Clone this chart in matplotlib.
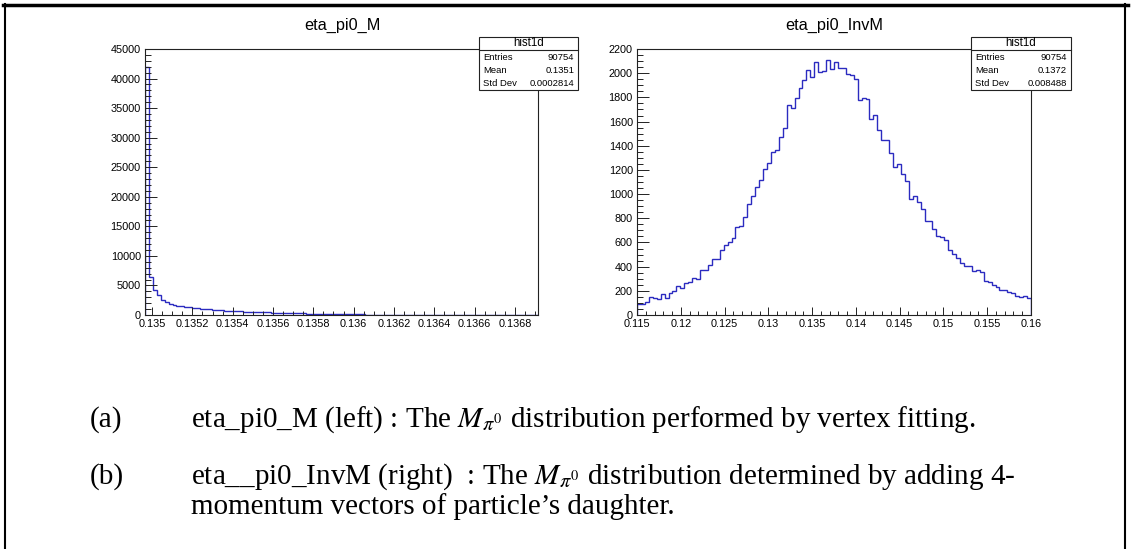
import matplotlib
matplotlib.use("Agg")
import matplotlib.pyplot as plt
from matplotlib.patches import Rectangle
from matplotlib.lines import Line2D
from matplotlib.ticker import MultipleLocator, FormatStrFormatter
import numpy as np

# --- data ---
# left: eta_pi0_M, 100 bins of width 0.0000195 starting at 0.134965 (only the first 61 filled)
m_lo, m_hi = 0.134965, 0.136915
m_counts = [42000, 6500, 4300, 3300, 2500, 2200, 1900, 1720, 1600, 1500,
            1400, 1300, 1220, 1150, 1080, 1000, 950, 900, 850, 800,
            760, 720, 690, 650, 620, 590, 560, 530, 500, 475,
            450, 425, 400, 380, 360, 340, 320, 300, 285, 270,
            255, 240, 225, 210, 200, 190, 180, 170, 160, 150,
            140, 130, 120, 110, 100, 90, 80, 70, 60, 50, 40]

# right: eta_pi0_InvM, 100 bins from 0.115 to 0.16
inv_lo, inv_hi = 0.115, 0.16
inv_counts = [92, 95, 110, 147, 140, 136, 175, 140, 180, 195,
              238, 225, 265, 275, 305, 295, 370, 372, 415, 465,
              465, 540, 575, 600, 640, 730, 735, 810, 920, 985,
              1055, 1120, 1210, 1255, 1350, 1365, 1475, 1550, 1735, 1715,
              1795, 1880, 1945, 2025, 1970, 2090, 2010, 2020, 2110, 2035,
              2090, 2045, 2040, 1990, 1985, 1955, 1778, 1797, 1786, 1625,
              1653, 1528, 1444, 1444, 1342, 1222, 1250, 1167, 1111, 958,
              981, 931, 875, 778, 778, 714, 653, 647, 619, 536,
              508, 472, 431, 408, 403, 361, 369, 353, 283, 269,
              244, 231, 208, 203, 194, 181, 161, 153, 158, 139]

titles = ["eta_pi0_M", "eta_pi0_InvM"]
stats = [("90754", "0.1351", "0.0002814"), ("90754", "0.1372", "0.008488")]

W, H = 1131, 549
fig = plt.figure(figsize=(W / 100, H / 100), dpi=100)
plt.rcParams["font.family"] = ["Liberation Sans", "DejaVu Sans"]
plt.rcParams["mathtext.fontset"] = "stix"
line_col = "#2b2bc0"


def fx(px):
    return px / W


def fy(py):
    return 1 - py / H


def root_axes(x0, x1, y0, y1):
    ax = fig.add_axes([fx(x0), fy(y1), fx(x1 - x0), (y1 - y0) / H])
    for s in ax.spines.values():
        s.set_linewidth(0.8)
        s.set_color("#222222")
    ax.tick_params(which="both", direction="in", top=False, right=False,
                   labelsize=7.8, pad=3, width=0.7, color="#222222")
    # ROOT style: tick length is a fraction of the other axis
    ax.tick_params(axis="y", which="major", length=8.6)
    ax.tick_params(axis="y", which="minor", length=4.3)
    ax.tick_params(axis="x", which="major", length=5.8)
    ax.tick_params(axis="x", which="minor", length=2.9)
    return ax


def stat_box(x0, x1, y0, y1, vals):
    fig.add_artist(Rectangle((fx(x0), fy(y1)), fx(x1 - x0), (y1 - y0) / H,
                             transform=fig.transFigure, facecolor="white",
                             edgecolor="#222222", lw=0.8, zorder=5))
    hy = y0 + 12.5
    fig.add_artist(Line2D([fx(x0), fx(x1)], [fy(hy), fy(hy)],
                          transform=fig.transFigure, color="#222222", lw=0.8, zorder=6))
    fig.text(fx((x0 + x1) / 2), fy(y0 + 6.5), "hist1d", ha="center", va="center",
             fontsize=8.3, zorder=7)
    names = ["Entries", "Mean", "Std Dev"]
    for i, (n, v) in enumerate(zip(names, vals)):
        yy = fy(hy + 7.5 + 13 * i)
        fig.text(fx(x0 + 4), yy, n, ha="left", va="center", fontsize=6.8, zorder=7)
        fig.text(fx(x1 - 4), yy, v, ha="right", va="center", fontsize=6.8, zorder=7)


# left panel
ax1 = root_axes(145, 538, 49, 315)
m_vals = np.zeros(100)
m_vals[:len(m_counts)] = m_counts
m_edges = np.linspace(m_lo, m_hi, 101)
ax1.stairs(m_vals, m_edges, color=line_col, lw=1.0)
ax1.set_xlim(m_lo, m_hi)
ax1.set_ylim(0, 45000)
ax1.xaxis.set_major_locator(MultipleLocator(0.0002))
ax1.xaxis.set_minor_locator(MultipleLocator(0.00005))
ax1.xaxis.set_major_formatter(FormatStrFormatter("%g"))
ax1.yaxis.set_major_locator(MultipleLocator(5000))
ax1.yaxis.set_minor_locator(MultipleLocator(1000))
ax1.yaxis.set_major_formatter(FormatStrFormatter("%d"))
fig.text(fx(342), fy(25), titles[0], ha="center", va="center", fontsize=11.7)
stat_box(479, 578, 37, 90, stats[0])

# right panel
ax2 = root_axes(637, 1031, 49, 315)
inv_edges = np.linspace(inv_lo, inv_hi, len(inv_counts) + 1)
ax2.stairs(inv_counts, inv_edges, color=line_col, lw=1.0)
ax2.set_xlim(inv_lo, inv_hi)
ax2.set_ylim(0, 2200)
ax2.xaxis.set_major_locator(MultipleLocator(0.005))
ax2.xaxis.set_minor_locator(MultipleLocator(0.001))
ax2.xaxis.set_major_formatter(FormatStrFormatter("%g"))
ax2.yaxis.set_major_locator(MultipleLocator(200))
ax2.yaxis.set_minor_locator(MultipleLocator(50))
ax2.yaxis.set_major_formatter(FormatStrFormatter("%d"))
fig.text(fx(834), fy(25), titles[1], ha="center", va="center", fontsize=11.7)
stat_box(971, 1071, 37, 90, stats[1])

# caption
cap = dict(fontsize=21, family=["Liberation Serif", "DejaVu Serif"], va="center", ha="left")
fig.text(fx(90), fy(420), "(a)", **cap)
fig.text(fx(191), fy(420), r"eta_pi0_M (left) : The $M_{\pi^0}$ distribution performed by vertex fitting.", **cap)
fig.text(fx(90), fy(477), "(b)", **cap)
fig.text(fx(191), fy(477), r"eta__pi0_InvM (right)  : The $M_{\pi^0}$ distribution determined by adding 4-", **cap)
fig.text(fx(191), fy(507), "momentum vectors of particle\u2019s daughter.", **cap)

# outer frame (thick top, thin sides)
fig.add_artist(Line2D([fx(3), fx(1128)], [fy(4.5), fy(4.5)], transform=fig.transFigure, color="black", lw=2.5))
fig.add_artist(Line2D([fx(4.5), fx(4.5)], [fy(4), fy(549)], transform=fig.transFigure, color="black", lw=1.5))
fig.add_artist(Line2D([fx(1125), fx(1125)], [fy(4), fy(549)], transform=fig.transFigure, color="black", lw=1.5))

fig.savefig("out.png", dpi=100)
